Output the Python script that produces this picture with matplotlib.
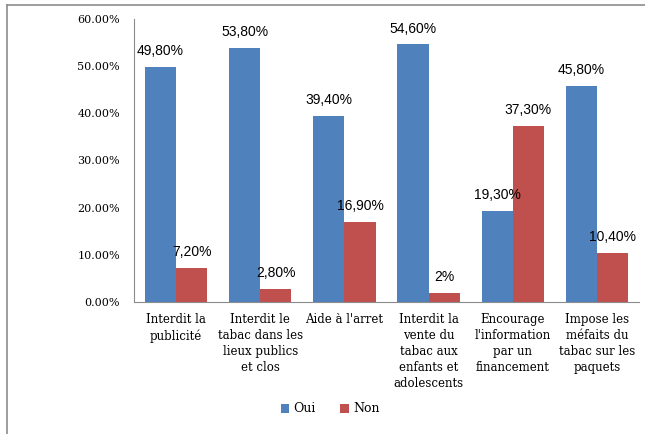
import numpy as np
import matplotlib.pyplot as plt
from matplotlib.lines import Line2D

categories = ["Interdit la\npublicité",
              "Interdit le\ntabac dans les\nlieux publics\net clos",
              "Aide à l'arret",
              "Interdit la\nvente du\ntabac aux\nenfants et\nadolescents",
              "Encourage\nl'information\npar un\nfinancement",
              "Impose les\nméfaits du\ntabac sur les\npaquets"]
oui = [49.8, 53.8, 39.4, 54.6, 19.3, 45.8]
non = [7.2, 2.8, 16.9, 2.0, 37.3, 10.4]
oui_labels = ["49,80%", "53,80%", "39,40%", "54,60%", "19,30%", "45,80%"]
non_labels = ["7,20%", "2,80%", "16,90%", "2%", "37,30%", "10,40%"]
yticks = [0, 10, 20, 30, 40, 50, 60]

blue = "#4F81BD"
red = "#C0504D"
serif = "DejaVu Serif"

fig = plt.figure(figsize=(6.45, 4.34), dpi=100)
ax = fig.add_axes([134/645, 1-302/434, (639-134)/645, (302-19)/434])

x = np.arange(len(categories))
w = 0.37
ax.bar(x - w/2, oui, w, color=blue, label="Oui")
ax.bar(x + w/2, non, w, color=red, label="Non")

for xi, v, t in zip(x - w/2, oui, oui_labels):
    ax.text(xi, v + 1.9, t, ha="center", va="bottom", fontsize=10,
            family="Liberation Sans", clip_on=False)
for xi, v, t in zip(x + w/2, non, non_labels):
    ax.text(xi, v + 1.9, t, ha="center", va="bottom", fontsize=10,
            family="Liberation Sans", clip_on=False)

ax.set_xlim(-0.5, len(categories) - 0.5)
ax.set_ylim(0, 60)
ax.set_yticks(yticks)
ax.set_yticklabels(["%.2f%%" % v for v in yticks], family=serif, fontsize=8)
ax.set_xticks(x)
ax.set_xticklabels(categories, family=serif, fontsize=8.5, linespacing=1.3, va="top")
ax.tick_params(length=0, pad=10, axis="y")
ax.tick_params(length=0, pad=8, axis="x")

for s in ["top", "right"]:
    ax.spines[s].set_visible(False)
ax.spines["left"].set_color("#8c8c8c")
ax.spines["bottom"].set_color("#8c8c8c")

ax.legend(loc="center", bbox_to_anchor=(330/645, 1-409/434), bbox_transform=fig.transFigure,
          ncol=2, frameon=False, prop={"family": serif, "size": 9},
          handlelength=0.7, handleheight=0.7, handletextpad=0.3, columnspacing=2.0)

# figure frame (left and top edges visible)
fig.add_artist(Line2D([6.5/645, 6.5/645], [0, 1-5/434], transform=fig.transFigure, color="#8c8c8c", lw=1.2))
fig.add_artist(Line2D([6.5/645, 1], [1-5/434, 1-5/434], transform=fig.transFigure, color="#8c8c8c", lw=1.2))

fig.savefig("out.png", dpi=100)
